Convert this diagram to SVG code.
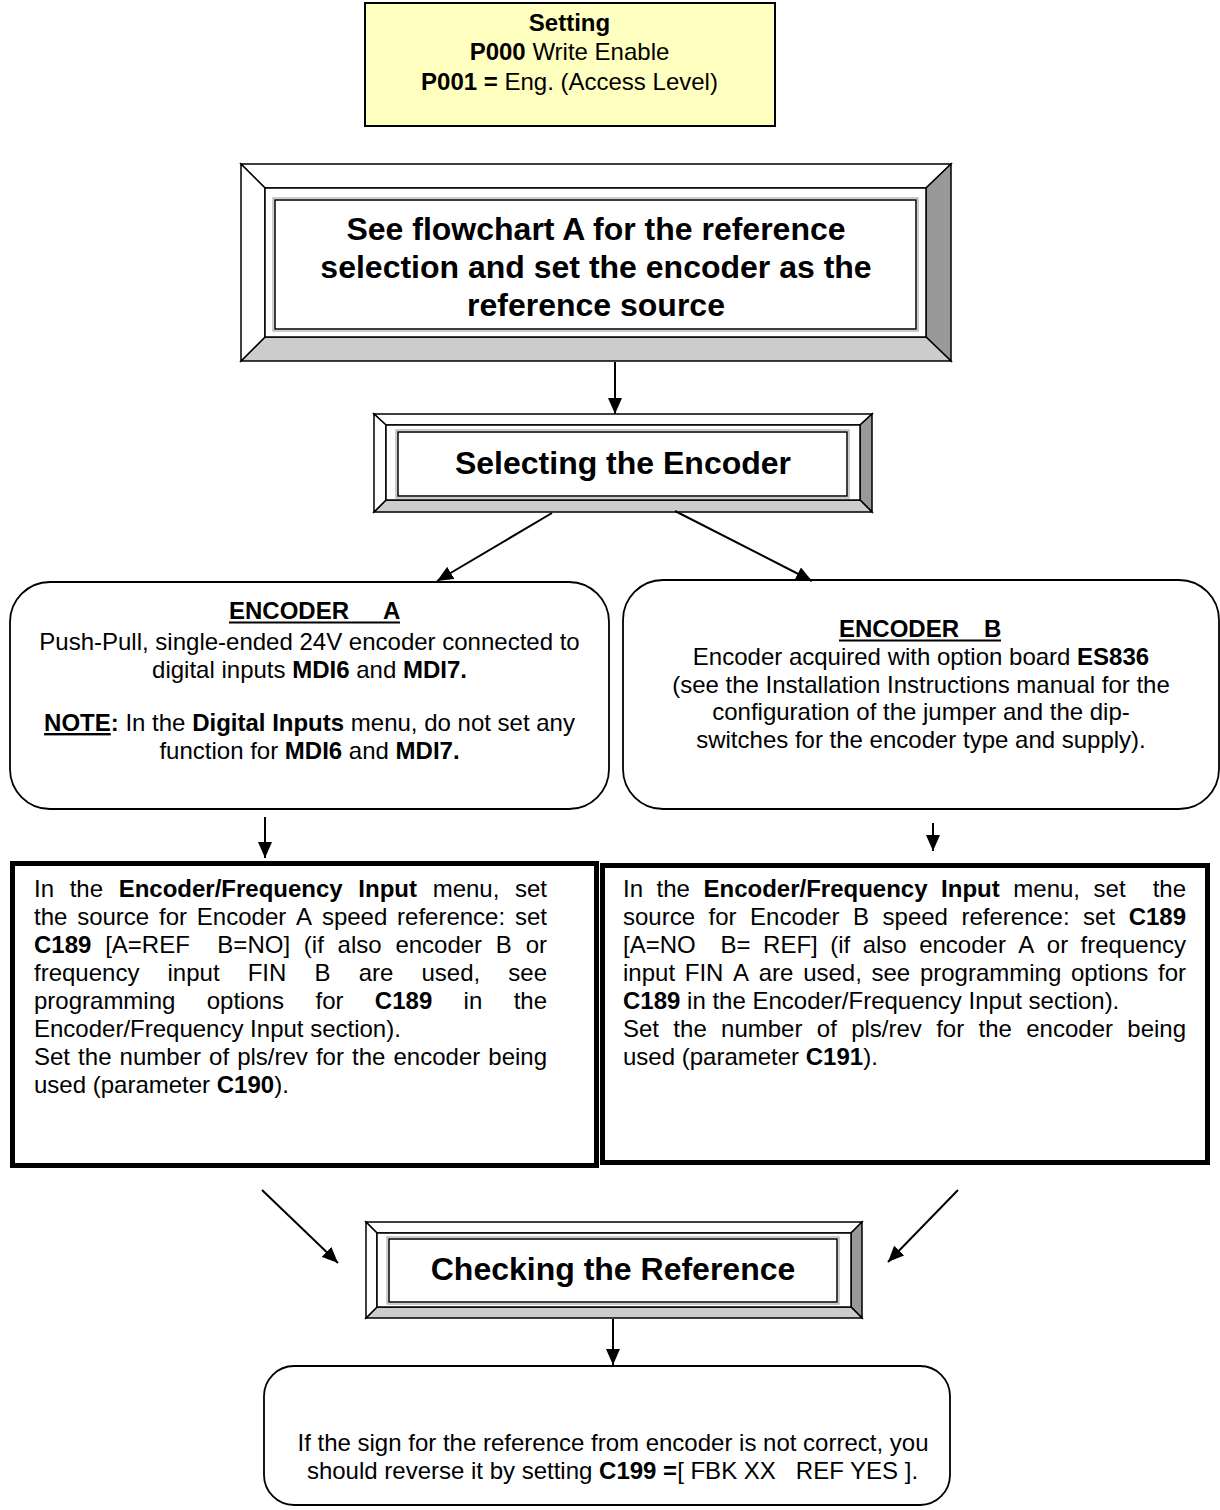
<svg xmlns="http://www.w3.org/2000/svg" width="1220" height="1510" viewBox="0 0 1220 1510">
<style>
.t{font-family:"Liberation Sans",Arial,sans-serif;font-size:24px;fill:#000}
.b{font-weight:bold}
.c{text-anchor:middle}
.h{font-family:"Liberation Sans",Arial,sans-serif;font-size:32px;font-weight:bold;text-anchor:middle;fill:#000}
.u{text-decoration:underline}
.bv{stroke:#000;stroke-width:1.5;stroke-linejoin:miter}
.lt{fill:#fff}
.dk{fill:#999}
.md{fill:#ccc}
.face{fill:#fff;stroke:#000;stroke-width:1.5}
.in1{fill:none;stroke:#999;stroke-width:1}
.in2{fill:none;stroke:#000;stroke-width:1.5}
.rb{fill:#fff;stroke:#000;stroke-width:1.8}
.tb{fill:#fff;stroke:#000;stroke-width:5}
.cn{stroke:#000;stroke-width:2;fill:none;marker-end:url(#ah)}
</style>
<defs>
<marker id="ah" markerUnits="userSpaceOnUse" markerWidth="16" markerHeight="14" refX="16" refY="7" orient="auto">
<path d="M0,0 L16,7 L0,14 Z" fill="#000"/>
</marker>
</defs>
<rect width="1220" height="1510" fill="#fff"/>

<g id="setting">
<rect x="365" y="3" width="410" height="123" fill="#FFFFC0" stroke="#000" stroke-width="2"/>
<text class="t b c" x="569.5" y="31">Setting</text>
<text class="t c" x="569.5" y="60"><tspan class="b">P000</tspan> Write Enable</text>
<text class="t c" x="569.5" y="90"><tspan class="b">P001 =</tspan> Eng. (Access Level)</text>
</g>

<g id="flowchartA">
<polygon class="bv lt" points="241,164 951,164 926,188 265,188"/>
<polygon class="bv dk" points="951,164 951,361 926,337 926,188"/>
<polygon class="bv md" points="241,361 951,361 926,337 265,337"/>
<polygon class="bv lt" points="241,164 241,361 265,337 265,188"/>
<rect class="face" x="265" y="188" width="661" height="149"/>
<rect class="in1" x="273" y="198" width="645" height="133"/>
<rect class="in2" x="275" y="200" width="641" height="129"/>
<text class="h" x="596" y="240">See flowchart A for the reference</text>
<text class="h" x="596" y="278">selection and set the encoder as the</text>
<text class="h" x="596" y="316">reference source</text>
</g>

<g id="selecting">
<polygon class="bv lt" points="374,414 872,414 860,425 386,425"/>
<polygon class="bv dk" points="872,414 872,512 860,500 860,425"/>
<polygon class="bv md" points="374,512 872,512 860,500 386,500"/>
<polygon class="bv lt" points="374,414 374,512 386,500 386,425"/>
<rect class="face" x="386" y="425" width="474" height="75"/>
<rect class="in1" x="396" y="430" width="453" height="68"/>
<rect class="in2" x="398" y="432" width="449" height="64"/>
<text class="h" x="623" y="474">Selecting the Encoder</text>
</g>

<g id="encoderA">
<rect class="rb" x="10" y="582" width="599" height="227" rx="40" ry="40"/>
<text class="t b" x="229" y="619">ENCODER</text>
<text class="t b" x="383" y="619">A</text>
<line x1="229" y1="622.5" x2="400" y2="622.5" stroke="#000" stroke-width="2"/>
<text class="t c" x="309.5" y="650">Push-Pull, single-ended 24V encoder connected to</text>
<text class="t c" x="309.5" y="678">digital inputs <tspan class="b">MDI6</tspan> and <tspan class="b">MDI7.</tspan></text>
<text class="t c" x="309.5" y="731"><tspan class="b u">NOTE</tspan><tspan class="b">:</tspan> In the <tspan class="b">Digital Inputs</tspan> menu, do not set any</text>
<text class="t c" x="309.5" y="759">function for <tspan class="b">MDI6</tspan> and <tspan class="b">MDI7.</tspan></text>
</g>

<g id="encoderB">
<rect class="rb" x="623" y="580" width="596" height="229" rx="40" ry="40"/>
<text class="t b" x="839" y="637">ENCODER</text>
<text class="t b" x="984" y="637">B</text>
<line x1="839" y1="640.5" x2="1001" y2="640.5" stroke="#000" stroke-width="2"/>
<text class="t c" x="921" y="665">Encoder acquired with option board <tspan class="b">ES836</tspan></text>
<text class="t c" x="921" y="693">(see the Installation Instructions manual for the</text>
<text class="t c" x="921" y="720">configuration of the jumper and the dip-</text>
<text class="t c" x="921" y="748">switches for the encoder type and supply).</text>
</g>

<g id="setA">
<rect class="tb" x="12.5" y="863.5" width="584" height="302"/>
<text class="t" y="897"><tspan x="34">In</tspan><tspan x="69.66">the</tspan><tspan x="118.66" class="b">Encoder/Frequency</tspan><tspan x="358.36" class="b">Input</tspan><tspan x="432.66">menu,</tspan><tspan x="515">set</tspan></text>
<text class="t" y="925"><tspan x="34">the</tspan><tspan x="77.18">source</tspan><tspan x="159.02">for</tspan><tspan x="196.85">Encoder</tspan><tspan x="296.05">A</tspan><tspan x="321.88">speed</tspan><tspan x="397.08">reference:</tspan><tspan x="514.95">set</tspan></text>
<text class="t" y="953"><tspan x="34" class="b">C189</tspan><tspan x="105.13">[A=REF</tspan><tspan x="217.37">B=NO]</tspan><tspan x="303.84">(if</tspan><tspan x="337.6">also</tspan><tspan x="395.39">encoder</tspan><tspan x="495.87">B</tspan><tspan x="525.65">or</tspan></text>
<text class="t" y="981"><tspan x="34">frequency</tspan><tspan x="167.52">input</tspan><tspan x="247.69">FIN</tspan><tspan x="314.49">B</tspan><tspan x="358.64">are</tspan><tspan x="421.46">used,</tspan><tspan x="508.3">see</tspan></text>
<text class="t" y="1009"><tspan x="34">programming</tspan><tspan x="206.73">options</tspan><tspan x="315.48">for</tspan><tspan x="374.86" class="b">C189</tspan><tspan x="463.59">in</tspan><tspan x="513.63">the</tspan></text>
<text class="t" x="34" y="1037">Encoder/Frequency Input section).</text>
<text class="t" y="1065"><tspan x="34">Set</tspan><tspan x="78.12">the</tspan><tspan x="119.58">number</tspan><tspan x="209.04">of</tspan><tspan x="237.16">pls/rev</tspan><tspan x="315.94">for</tspan><tspan x="352.05">the</tspan><tspan x="393.51">encoder</tspan><tspan x="488.32">being</tspan></text>
<text class="t" x="34" y="1093">used (parameter <tspan class="b">C190</tspan>).</text>
</g>

<g id="setB">
<rect class="tb" x="602.5" y="865.5" width="605" height="297"/>
<text class="t" y="897"><tspan x="623">In</tspan><tspan x="656.57">the</tspan><tspan x="703.48" class="b">Encoder/Frequency</tspan><tspan x="941.09" class="b">Input</tspan><tspan x="1013.3">menu,</tspan><tspan x="1093.55">set</tspan><tspan x="1152.67">the</tspan></text>
<text class="t" y="925"><tspan x="623">source</tspan><tspan x="708.56">for</tspan><tspan x="750.11">Encoder</tspan><tspan x="853.03">B</tspan><tspan x="882.58">speed</tspan><tspan x="961.5">reference:</tspan><tspan x="1083.09">set</tspan><tspan x="1128.65" class="b">C189</tspan></text>
<text class="t" y="953"><tspan x="623">[A=NO</tspan><tspan x="720.62">B=</tspan><tspan x="763.1">REF]</tspan><tspan x="830.23">(if</tspan><tspan x="862.68">also</tspan><tspan x="919.16">encoder</tspan><tspan x="1018.33">A</tspan><tspan x="1046.8">or</tspan><tspan x="1080.6">frequency</tspan></text>
<text class="t" y="981"><tspan x="623">input</tspan><tspan x="684.72">FIN</tspan><tspan x="733.07">A</tspan><tspan x="758.77">are</tspan><tspan x="803.14">used,</tspan><tspan x="871.53">see</tspan><tspan x="919.91">programming</tspan><tspan x="1070.96">options</tspan><tspan x="1158.03">for</tspan></text>
<text class="t" x="623" y="1009"><tspan class="b">C189</tspan> in the Encoder/Frequency Input section).</text>
<text class="t" y="1037"><tspan x="623">Set</tspan><tspan x="673.37">the</tspan><tspan x="721.08">number</tspan><tspan x="816.79">of</tspan><tspan x="851.16">pls/rev</tspan><tspan x="936.19">for</tspan><tspan x="978.55">the</tspan><tspan x="1026.26">encoder</tspan><tspan x="1127.32">being</tspan></text>
<text class="t" x="623" y="1065">used (parameter <tspan class="b">C191</tspan>).</text>
</g>

<g id="checking">
<polygon class="bv lt" points="366,1222 862,1222 851,1233 377,1233"/>
<polygon class="bv dk" points="862,1222 862,1318 851,1307 851,1233"/>
<polygon class="bv md" points="366,1318 862,1318 851,1307 377,1307"/>
<polygon class="bv lt" points="366,1222 366,1318 377,1307 377,1233"/>
<rect class="face" x="377" y="1233" width="474" height="74"/>
<rect class="in1" x="387" y="1237" width="452" height="67"/>
<rect class="in2" x="389" y="1239" width="448" height="63"/>
<text class="h" x="613" y="1280">Checking the Reference</text>
</g>

<g id="reverse">
<rect class="rb" x="264" y="1366" width="686" height="139" rx="30" ry="30"/>
<text class="t c" x="613" y="1451">If the sign for the reference from encoder is not correct, you</text>
<text class="t c" x="612.5" y="1479" xml:space="preserve">should reverse it by setting <tspan class="b">C199 =</tspan>[ FBK XX   REF YES ].</text>
</g>

<g id="connectors">
<line class="cn" x1="615" y1="362" x2="615" y2="414"/>
<line class="cn" x1="552" y1="513" x2="437" y2="581"/>
<line class="cn" x1="675" y1="511" x2="812" y2="581"/>
<line class="cn" x1="265" y1="817" x2="265" y2="858"/>
<line class="cn" x1="933" y1="823" x2="933" y2="851"/>
<line class="cn" x1="262" y1="1190" x2="338" y2="1263"/>
<line class="cn" x1="958" y1="1190" x2="888" y2="1262"/>
<line class="cn" x1="613" y1="1319" x2="613" y2="1365"/>
</g>
</svg>
